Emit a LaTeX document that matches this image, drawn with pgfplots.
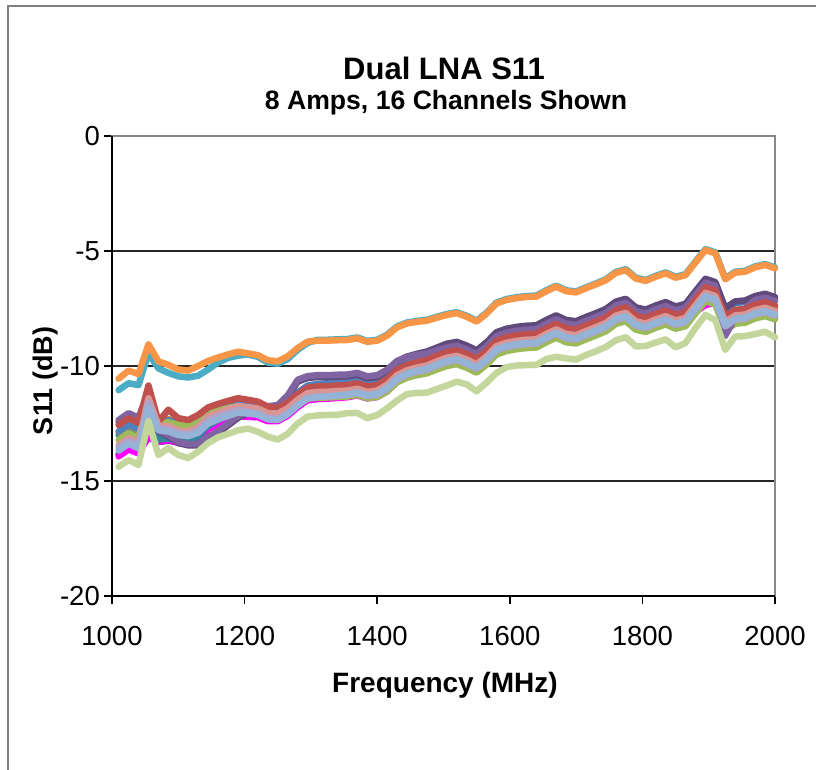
\documentclass[border=0pt]{standalone}
\usepackage{fontspec}
\setmainfont{Liberation Sans}
\usepackage{pgfplots}
\usepackage{pgfplotstable}
\pgfplotsset{compat=1.18}
\definecolor{cO}{HTML}{F79646}
\definecolor{cT}{HTML}{4BACC6}
\definecolor{cLG}{HTML}{C3D69B}
\definecolor{cB}{HTML}{4F81BD}
\definecolor{cR}{HTML}{C0504D}
\definecolor{cG}{HTML}{9BBB59}
\definecolor{cP}{HTML}{8064A2}
\definecolor{cDP}{HTML}{604A7B}
\definecolor{cDO}{HTML}{DE8344}
\definecolor{cDT}{HTML}{31859C}
\definecolor{cN}{HTML}{17375E}
\definecolor{cM}{HTML}{FF00FF}
\definecolor{cPK}{HTML}{D99694}
\definecolor{cLP}{HTML}{B3A2C7}
\definecolor{cLB}{HTML}{95B3D7}
\definecolor{framegray}{HTML}{7F7F7F}
\definecolor{axisgray}{HTML}{888888}

\pgfplotstableread{
f O T LG B R G P DP DO DT N M PK LP LB
1010 -10.55 -11.05 -14.38 -12.85 -12.57 -13.22 -12.35 -12.45 -12.88 -13.00 -13.85 -13.93 -13.43 -13.55 -13.68
1025 -10.20 -10.75 -14.09 -12.55 -12.27 -12.92 -12.05 -12.15 -12.58 -12.70 -13.55 -13.63 -13.13 -13.25 -13.38
1040 -10.35 -10.83 -14.30 -12.75 -12.47 -13.12 -12.25 -12.35 -12.78 -12.90 -13.75 -13.80 -13.33 -13.45 -13.58
1055 -9.05 -9.45 -12.40 -11.30 -10.85 -11.50 -11.10 -11.20 -11.40 -11.50 -13.10 -13.07 -11.40 -11.60 -11.80
1070 -9.80 -10.10 -13.87 -12.55 -12.42 -12.50 -12.80 -12.85 -12.50 -13.20 -13.30 -13.30 -12.60 -12.70 -12.80
1085 -9.95 -10.30 -13.57 -12.35 -11.90 -12.45 -13.00 -13.05 -12.30 -13.15 -13.25 -13.22 -12.60 -12.75 -12.85
1100 -10.15 -10.45 -13.87 -12.50 -12.27 -12.55 -13.30 -13.35 -12.45 -13.20 -13.30 -13.35 -12.80 -12.90 -13.00
1115 -10.20 -10.50 -14.00 -12.55 -12.35 -12.60 -13.40 -13.45 -12.50 -13.30 -13.35 -13.40 -12.85 -12.95 -13.05
1130 -10.00 -10.42 -13.72 -12.30 -12.13 -12.45 -13.40 -13.45 -12.30 -13.05 -13.15 -13.20 -12.65 -12.80 -12.90
1145 -9.78 -10.15 -13.35 -11.95 -11.80 -12.05 -13.08 -13.16 -11.90 -12.60 -12.70 -12.75 -12.20 -12.35 -12.50
1160 -9.63 -9.85 -13.10 -11.78 -11.65 -11.93 -12.83 -12.91 -11.75 -12.35 -12.47 -12.54 -12.03 -12.18 -12.32
1175 -9.50 -9.65 -12.95 -11.62 -11.52 -11.83 -12.50 -12.58 -11.62 -12.12 -12.27 -12.36 -11.88 -12.05 -12.17
1190 -9.38 -9.55 -12.80 -11.48 -11.40 -11.74 -12.18 -12.26 -11.50 -11.90 -12.07 -12.18 -11.74 -11.91 -12.02
1205 -9.45 -9.50 -12.72 -11.52 -11.47 -11.85 -11.95 -12.03 -11.57 -11.87 -12.06 -12.21 -11.79 -11.98 -12.07
1220 -9.53 -9.60 -12.86 -11.58 -11.55 -11.96 -11.73 -11.81 -11.65 -11.85 -12.06 -12.23 -11.85 -12.04 -12.12
1235 -9.75 -9.85 -13.07 -11.77 -11.77 -12.21 -11.75 -11.83 -11.87 -11.97 -12.21 -12.40 -12.05 -12.26 -12.32
1250 -9.80 -9.90 -13.20 -11.80 -11.83 -12.30 -11.70 -11.78 -11.93 -11.98 -12.17 -12.40 -12.07 -12.30 -12.35
1265 -9.58 -9.70 -12.95 -11.55 -11.60 -12.07 -11.28 -11.36 -11.70 -11.75 -11.94 -12.16 -11.84 -12.06 -12.10
1280 -9.22 -9.30 -12.50 -11.16 -11.23 -11.71 -10.60 -10.68 -11.33 -11.38 -11.57 -11.79 -11.47 -11.69 -11.72
1295 -8.94 -9.00 -12.20 -10.85 -10.94 -11.42 -10.44 -10.52 -11.04 -11.09 -11.28 -11.49 -11.18 -11.39 -11.41
1310 -8.90 -8.86 -12.15 -10.78 -10.89 -11.38 -10.40 -10.48 -10.99 -11.04 -11.23 -11.44 -11.13 -11.34 -11.35
1325 -8.90 -8.86 -12.13 -10.75 -10.88 -11.37 -10.40 -10.48 -10.98 -11.03 -11.22 -11.42 -11.12 -11.32 -11.32
1340 -8.88 -8.84 -12.12 -10.70 -10.85 -11.35 -10.38 -10.46 -10.95 -11.00 -11.19 -11.39 -11.09 -11.29 -11.28
1355 -8.87 -8.83 -12.05 -10.66 -10.83 -11.33 -10.37 -10.45 -10.93 -10.98 -11.17 -11.36 -11.07 -11.26 -11.24
1370 -8.80 -8.76 -12.04 -10.56 -10.75 -11.26 -10.30 -10.38 -10.85 -10.90 -11.09 -11.28 -10.99 -11.18 -11.15
1385 -8.95 -8.91 -12.27 -10.68 -10.89 -11.40 -10.45 -10.53 -10.99 -11.04 -11.23 -11.41 -11.13 -11.31 -11.27
1400 -8.90 -8.86 -12.13 -10.60 -10.83 -11.35 -10.40 -10.48 -10.93 -10.98 -11.17 -11.35 -11.07 -11.25 -11.20
1415 -8.68 -8.64 -11.84 -10.33 -10.57 -11.11 -10.16 -10.21 -10.67 -10.72 -10.91 -11.10 -10.81 -11.00 -10.95
1430 -8.32 -8.28 -11.50 -9.91 -10.16 -10.71 -9.78 -9.81 -10.26 -10.31 -10.50 -10.69 -10.40 -10.59 -10.54
1445 -8.15 -8.11 -11.22 -9.69 -9.95 -10.51 -9.60 -9.59 -10.05 -10.10 -10.29 -10.48 -10.19 -10.38 -10.33
1460 -8.08 -8.04 -11.17 -9.56 -9.83 -10.40 -9.52 -9.47 -9.93 -9.98 -10.17 -10.36 -10.07 -10.26 -10.21
1475 -8.03 -7.99 -11.16 -9.46 -9.74 -10.32 -9.46 -9.37 -9.84 -9.89 -10.08 -10.27 -9.98 -10.17 -10.12
1490 -7.90 -7.86 -11.00 -9.27 -9.56 -10.15 -9.32 -9.20 -9.66 -9.71 -9.90 -10.09 -9.80 -9.99 -9.94
1505 -7.78 -7.74 -10.85 -9.10 -9.40 -10.00 -9.20 -9.03 -9.50 -9.55 -9.74 -9.93 -9.64 -9.83 -9.78
1520 -7.70 -7.66 -10.68 -9.02 -9.32 -9.92 -9.12 -8.95 -9.42 -9.47 -9.66 -9.85 -9.56 -9.75 -9.70
1535 -7.86 -7.82 -10.80 -9.18 -9.48 -10.08 -9.28 -9.11 -9.58 -9.63 -9.82 -10.01 -9.72 -9.91 -9.86
1550 -8.07 -8.03 -11.10 -9.39 -9.69 -10.29 -9.49 -9.32 -9.79 -9.84 -10.03 -10.22 -9.93 -10.12 -10.07
1565 -7.72 -7.68 -10.72 -9.04 -9.34 -9.94 -9.14 -8.97 -9.44 -9.49 -9.68 -9.87 -9.58 -9.77 -9.72
1580 -7.28 -7.24 -10.30 -8.60 -8.90 -9.50 -8.70 -8.53 -9.00 -9.05 -9.24 -9.43 -9.14 -9.33 -9.28
1595 -7.13 -7.09 -10.05 -8.45 -8.75 -9.35 -8.55 -8.38 -8.85 -8.90 -9.09 -9.28 -8.99 -9.18 -9.13
1610 -7.05 -7.01 -9.98 -8.37 -8.67 -9.27 -8.47 -8.30 -8.77 -8.82 -9.01 -9.20 -8.91 -9.10 -9.05
1625 -7.00 -6.96 -9.96 -8.32 -8.62 -9.22 -8.42 -8.25 -8.72 -8.77 -8.96 -9.15 -8.86 -9.05 -9.00
1640 -6.98 -6.94 -9.95 -8.30 -8.60 -9.20 -8.40 -8.23 -8.70 -8.75 -8.94 -9.13 -8.84 -9.03 -8.98
1655 -6.75 -6.71 -9.70 -8.07 -8.37 -8.97 -8.17 -8.00 -8.47 -8.52 -8.71 -8.90 -8.61 -8.80 -8.75
1670 -6.55 -6.51 -9.60 -7.87 -8.17 -8.77 -7.97 -7.80 -8.27 -8.32 -8.51 -8.70 -8.41 -8.60 -8.55
1685 -6.75 -6.71 -9.67 -8.07 -8.37 -8.97 -8.17 -8.00 -8.47 -8.52 -8.71 -8.90 -8.61 -8.80 -8.75
1700 -6.80 -6.76 -9.72 -8.12 -8.42 -9.02 -8.22 -8.05 -8.52 -8.57 -8.76 -8.95 -8.66 -8.85 -8.80
1715 -6.62 -6.58 -9.52 -7.94 -8.24 -8.84 -8.04 -7.87 -8.34 -8.39 -8.58 -8.77 -8.48 -8.67 -8.62
1730 -6.45 -6.41 -9.36 -7.77 -8.07 -8.67 -7.87 -7.70 -8.17 -8.22 -8.41 -8.60 -8.31 -8.50 -8.45
1745 -6.27 -6.23 -9.17 -7.59 -7.89 -8.49 -7.69 -7.52 -7.99 -8.04 -8.23 -8.42 -8.13 -8.32 -8.27
1760 -5.95 -5.91 -8.88 -7.27 -7.57 -8.17 -7.37 -7.20 -7.67 -7.72 -7.91 -8.10 -7.81 -8.00 -7.95
1775 -5.83 -5.79 -8.75 -7.15 -7.45 -8.05 -7.25 -7.08 -7.55 -7.60 -7.79 -7.98 -7.69 -7.88 -7.83
1790 -6.20 -6.16 -9.15 -7.52 -7.82 -8.42 -7.62 -7.45 -7.92 -7.97 -8.16 -8.35 -8.06 -8.25 -8.20
1805 -6.30 -6.26 -9.13 -7.62 -7.92 -8.52 -7.72 -7.55 -8.02 -8.07 -8.26 -8.45 -8.16 -8.35 -8.30
1820 -6.12 -6.08 -8.98 -7.44 -7.74 -8.34 -7.54 -7.37 -7.84 -7.89 -8.08 -8.27 -7.98 -8.17 -8.12
1835 -5.97 -5.93 -8.84 -7.29 -7.59 -8.19 -7.39 -7.22 -7.69 -7.74 -7.93 -8.12 -7.83 -8.02 -7.97
1850 -6.16 -6.12 -9.19 -7.48 -7.78 -8.38 -7.58 -7.41 -7.88 -7.93 -8.12 -8.31 -8.02 -8.21 -8.16
1865 -6.05 -6.01 -9.00 -7.37 -7.67 -8.27 -7.47 -7.30 -7.77 -7.82 -8.01 -8.20 -7.91 -8.10 -8.05
1880 -5.50 -5.46 -8.35 -6.82 -7.12 -7.72 -6.92 -6.75 -7.22 -7.27 -7.46 -7.65 -7.36 -7.55 -7.50
1895 -4.96 -4.92 -7.78 -6.28 -6.58 -7.18 -6.38 -6.21 -6.68 -6.73 -6.92 -7.35 -6.82 -7.01 -6.96
1910 -5.10 -5.06 -8.00 -6.42 -6.72 -7.32 -6.52 -6.35 -6.82 -6.87 -7.06 -7.25 -6.96 -7.15 -7.10
1925 -6.23 -6.19 -9.30 -7.55 -7.85 -8.45 -8.68 -7.48 -7.95 -8.00 -8.19 -8.38 -8.09 -8.28 -8.23
1940 -5.94 -5.90 -8.72 -7.26 -7.56 -8.16 -7.89 -7.19 -7.66 -7.71 -7.90 -8.09 -7.80 -7.99 -7.94
1955 -5.90 -5.86 -8.70 -7.22 -7.52 -8.12 -7.50 -7.15 -7.62 -7.67 -7.86 -8.05 -7.76 -7.95 -7.90
1970 -5.71 -5.67 -8.61 -7.03 -7.33 -7.93 -7.13 -6.96 -7.43 -7.48 -7.67 -7.86 -7.57 -7.76 -7.71
1985 -5.61 -5.57 -8.51 -6.93 -7.23 -7.83 -7.03 -6.86 -7.33 -7.38 -7.57 -7.76 -7.47 -7.66 -7.61
2000 -5.75 -5.71 -8.75 -7.07 -7.37 -7.97 -7.17 -7.00 -7.47 -7.52 -7.71 -7.90 -7.61 -7.80 -7.75
}\datatable

\begin{document}
\begin{tikzpicture}[x=1pt,y=1pt]
\path[use as bounding box] (0,0) rectangle (816,770);
\fill[white] (0,0) rectangle (816,770);
\draw[framegray, line width=2pt] (8,-10) -- (8,764) -- (830,764);
\begin{axis}[
  at={(112pt,174pt)}, anchor=south west,
  scale only axis, width=663pt, height=460pt,
  xmin=1000, xmax=2000, ymin=-20, ymax=0,
  xtick={1000,1200,1400,1600,1800,2000},
  xticklabels={1000,1200,1400,1600,1800,2000},
  ytick={-20,-15,-10,-5,0},
  yticklabels={-20,-15,-10,-5,0},
  tick align=outside, tick pos=left,
  major tick length=8pt,
  tick style={black, line width=1.5pt},
  axis line style={draw=axisgray, line width=2pt},
  ymajorgrids, grid style={black!85, line width=1.2pt},
  clip=false,
  ticklabel style={font=\fontsize{27.5}{30}\selectfont, inner sep=0pt},
  xticklabel style={anchor=north, yshift=-22pt},
  yticklabel style={anchor=east, xshift=-4pt},
  every axis plot/.append style={line width=6.5pt, line join=round, line cap=round, mark=none},
]
\addplot[cN] table[x=f,y=N] {\datatable};
\addplot[cM] table[x=f,y=M] {\datatable};
\addplot[cDT] table[x=f,y=DT] {\datatable};
\addplot[cDO] table[x=f,y=DO] {\datatable};
\addplot[cB] table[x=f,y=B] {\datatable};
\addplot[cDP] table[x=f,y=DP] {\datatable};
\addplot[cG] table[x=f,y=G] {\datatable};
\addplot[cP] table[x=f,y=P] {\datatable};
\addplot[cR] table[x=f,y=R] {\datatable};
\addplot[cPK] table[x=f,y=PK] {\datatable};
\addplot[cLP] table[x=f,y=LP] {\datatable};
\addplot[cLB] table[x=f,y=LB] {\datatable};
\addplot[cT] table[x=f,y=T] {\datatable};
\addplot[cO] table[x=f,y=O] {\datatable};
\addplot[cLG] table[x=f,y=LG] {\datatable};
\draw[black, line width=2pt] (rel axis cs:0,1) -- (rel axis cs:0,0) -- (rel axis cs:1,0);
\end{axis}
\node[anchor=base, font=\bfseries\fontsize{31}{36}\selectfont] at (444,690) {Dual LNA S11};
\node[anchor=base, font=\bfseries\fontsize{26.6}{30}\selectfont] at (446,660) {8 Amps, 16 Channels Shown};
\node[anchor=base, font=\bfseries\fontsize{28}{32}\selectfont] at (445,77) {Frequency (MHz)};
\node[anchor=base, rotate=90, font=\bfseries\fontsize{27}{30}\selectfont] at (52,389) {S11 (dB)};
\end{tikzpicture}
\end{document}
